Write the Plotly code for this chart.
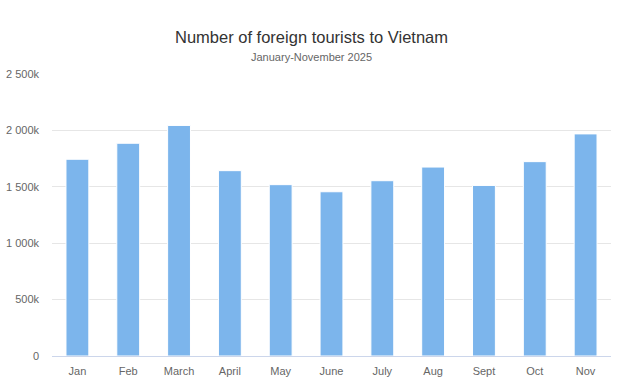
import plotly.graph_objects as go

months = ["Jan", "Feb", "March", "April", "May", "June", "July", "Aug", "Sept", "Oct", "Nov"]
tourists = [1744000, 1886000, 2044000, 1643000, 1519000, 1456000, 1554000, 1675000, 1512000, 1723000, 1969000]
ytick_vals = [0, 500000, 1000000, 1500000, 2000000, 2500000]
ytick_text = ["0", "500k", "1 000k", "1 500k", "2 000k", "2 500k"]

W, H = 624, 388
ml, mr, mt, mb = 52, 13, 74, 32
ph = H - mt - mb
pw = W - ml - mr

fig = go.Figure(go.Bar(
    x=months, y=tourists,
    marker=dict(color="#7cb5ec", line=dict(color="#ffffff", width=1)),
    hovertemplate="%{x}: %{y:,}<extra></extra>",
))

fig.update_layout(
    width=W, height=H,
    margin=dict(l=ml, r=mr, t=mt, b=mb),
    paper_bgcolor="white", plot_bgcolor="white",
    bargap=0.55,
    showlegend=False,
    font=dict(family="Liberation Sans, Arial, sans-serif", color="#666666", size=11),
    annotations=[
        dict(text="Number of foreign tourists to Vietnam", xref="paper", yref="paper",
             x=(311 - ml) / pw, y=1 + (mt - 37) / ph, xanchor="center", yanchor="middle",
             showarrow=False, font=dict(size=16.5, color="#333333")),
        dict(text="January-November 2025", xref="paper", yref="paper",
             x=(311 - ml) / pw, y=1 + (mt - 57) / ph, xanchor="center", yanchor="middle",
             showarrow=False, font=dict(size=11, color="#666666")),
    ],
)
fig.update_xaxes(showgrid=False, showline=True, linecolor="#ccd6eb", linewidth=1,
                 automargin=False,
                 ticks="", ticklabelstandoff=5, tickfont=dict(size=11, color="#666666"))
fig.update_yaxes(range=[0, 2500000], tickvals=ytick_vals, ticktext=ytick_text,
                 automargin=False,
                 showgrid=True, gridcolor="#e6e6e6", gridwidth=1, zeroline=False,
                 showline=False, ticks="", ticklabelstandoff=12,
                 tickfont=dict(size=11, color="#666666"))

fig.write_html("out.html")
